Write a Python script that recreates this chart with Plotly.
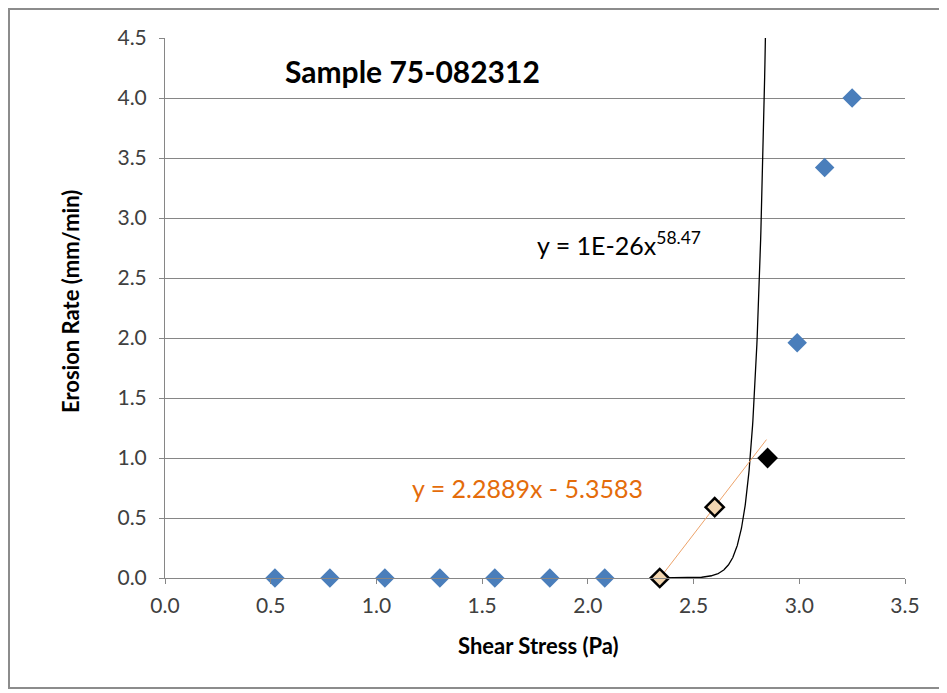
import numpy as np
import plotly.graph_objects as go

# ---- data ----
blue_x = [0.52, 0.78, 1.04, 1.30, 1.56, 1.82, 2.08, 2.99, 3.12, 3.25]
blue_y = [0.0, 0.0, 0.0, 0.0, 0.0, 0.0, 0.0, 1.96, 3.42, 4.0]
hollow_x = [2.34, 2.60]
hollow_y = [0.0, 0.59]
black_x = [2.85]
black_y = [1.0]

# trendlines
lin_slope = 2.2889
lin_icept = -5.3583
lin_x_range = [2.34, 2.845]
pow_coef = 1.41e-26
pow_exp = 58.47
pow_x_range = [2.34, 2.845]

x_ticks = [0.0, 0.5, 1.0, 1.5, 2.0, 2.5, 3.0, 3.5]
y_ticks = [0.0, 0.5, 1.0, 1.5, 2.0, 2.5, 3.0, 3.5, 4.0, 4.5]

FONT = "Lato"

fig = go.Figure()

# power trendline
px_ = np.linspace(pow_x_range[0], pow_x_range[1], 400)
py_ = pow_coef * px_ ** pow_exp
fig.add_trace(go.Scatter(x=px_, y=py_, mode="lines",
                         line=dict(color="black", width=1.3), hoverinfo="skip"))
# linear trendline
lx = np.array(lin_x_range)
fig.add_trace(go.Scatter(x=lx, y=lin_slope * lx + lin_icept, mode="lines",
                         line=dict(color="#EDA36A", width=1), hoverinfo="skip"))

fig.add_trace(go.Scatter(x=blue_x, y=blue_y, mode="markers",
                         marker=dict(symbol="diamond", size=15, color="#4A7EBB"),
                         cliponaxis=False))
fig.add_trace(go.Scatter(x=hollow_x, y=hollow_y, mode="markers",
                         marker=dict(symbol="diamond", size=14, color="#F3D6B0",
                                     line=dict(color="black", width=2.5)),
                         cliponaxis=False))
fig.add_trace(go.Scatter(x=black_x, y=black_y, mode="markers",
                         marker=dict(symbol="diamond", size=16, color="black"),
                         cliponaxis=False))

# page body has an 8px margin: plot area in screen px is x 165..905, y 38..578
OFF = 8
W, H = 947, 693
SX0, SX1, SY0, SY1 = 165, 905, 38, 578
pw, ph = SX1 - SX0, SY1 - SY0
L, T = SX0 - OFF, SY0 - OFF
R, B = W - L - pw, H - T - ph


def pxx(sx):
    return (sx - SX0) / pw


def pxy(sy):
    return (SY1 - sy) / ph


annotations = [
    dict(text="<b>Sample 75-082312</b>", x=pxx(283), y=pxy(71), xref="paper", yref="paper",
         xanchor="left", yanchor="middle", showarrow=False,
         font=dict(family=FONT, size=30, color="black")),
    dict(text="y = 1E-26x<sup>58.47</sup>", x=pxx(535), y=pxy(243), xref="paper", yref="paper",
         xanchor="left", yanchor="middle", showarrow=False,
         font=dict(family=FONT, size=25, color="black")),
    dict(text="y = 2.2889x - 5.3583", x=pxx(410), y=pxy(488), xref="paper", yref="paper",
         xanchor="left", yanchor="middle", showarrow=False,
         font=dict(family=FONT, size=25, color="#E46C0A")),
    dict(text="<b>Shear Stress (Pa)</b>", x=pxx(538), y=pxy(645), xref="paper", yref="paper",
         xanchor="center", yanchor="middle", showarrow=False,
         font=dict(family=FONT, size=22, color="black")),
    dict(text="<b>Erosion Rate (mm/min)</b>", x=pxx(70), y=pxy(302), xref="paper", yref="paper",
         xanchor="center", yanchor="middle", showarrow=False, textangle=-90,
         font=dict(family=FONT, size=22, color="black")),
]

fig.update_layout(
    width=W, height=H,
    margin=dict(l=L, r=R, t=T, b=B, pad=0),
    paper_bgcolor="white", plot_bgcolor="white",
    showlegend=False,
    font=dict(family=FONT, size=21, color="#404040"),
    annotations=annotations,
    shapes=[dict(type="rect", xref="paper", yref="paper",
                 x0=pxx(9), x1=pxx(945), y0=pxy(688), y1=pxy(9),
                 line=dict(color="#8C8C8C", width=2), layer="below")],
)
fig.update_xaxes(range=[0, 3.5], tickvals=x_ticks, ticktext=[f"{v:.1f}" for v in x_ticks],
                 showgrid=False, zeroline=False, showline=True, linecolor="#868686",
                 linewidth=1, ticks="outside", ticklen=5, tickcolor="#868686",
                 ticklabelstandoff=4,
                 tickfont=dict(family=FONT, size=21, color="#404040"))
fig.update_yaxes(range=[0, 4.5], tickvals=y_ticks, ticktext=[f"{v:.1f}" for v in y_ticks],
                 showgrid=True, gridcolor="#868686", gridwidth=1, zeroline=False,
                 showline=True, linecolor="#868686", linewidth=1,
                 ticks="outside", ticklen=5, tickcolor="#868686",
                 ticklabelstandoff=8,
                 tickfont=dict(family=FONT, size=21, color="#404040"))

fig.write_html("out.html")
